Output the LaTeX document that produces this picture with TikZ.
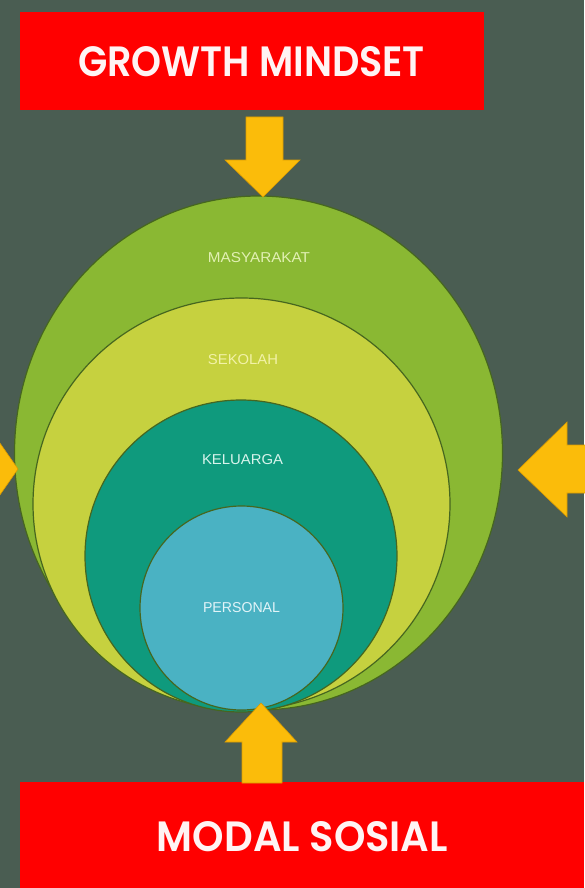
\documentclass[tikz,border=0pt]{standalone}
\usepackage{fontspec}
\usepackage{graphicx}
\setmainfont{Poppins}[BoldFont={* SemiBold}]
\newfontfamily\lblfont{Liberation Sans}
\definecolor{bg}{HTML}{4A5D52}
\definecolor{boxred}{HTML}{FF0000}
\definecolor{arrowc}{HTML}{FBBC0A}
\definecolor{arrowe}{HTML}{D99A00}
\definecolor{cmasy}{HTML}{8AB833}
\definecolor{csek}{HTML}{C6D13F}
\definecolor{ckel}{HTML}{0F9A7D}
\definecolor{cper}{HTML}{4AB2C3}
\definecolor{edgec}{HTML}{46661F}
\definecolor{tmasy}{HTML}{E2F0B4}
\definecolor{tsek}{HTML}{F2F2A8}
\definecolor{tkel}{HTML}{D8F4EC}
\definecolor{tper}{HTML}{E2F4F8}
\definecolor{ttitle}{HTML}{FFF4F4}
\tikzset{
  titlebox/.style={fill=boxred},
  titletext/.style={text=ttitle, inner sep=0pt, font=\bfseries},
  bigarrow/.style={fill=arrowc, draw=arrowe, line width=0.6pt, line join=miter},
  ring/.style={draw=edgec, line width=1.2pt},
  lbl/.style={inner sep=0pt, font=\lblfont},
}
\begin{document}
\begin{tikzpicture}[x=1pt,y=-1pt]
\fill[bg] (0,0) rectangle (584,888);
\useasboundingbox (0,0) rectangle (584,888);

% circles
\filldraw[ring, fill=cmasy] (258.5,453) ellipse [x radius=244, y radius=257];
\filldraw[ring, fill=csek] (241.5,504) ellipse [x radius=208.5, y radius=206];
\filldraw[ring, fill=ckel] (241,556) ellipse [x radius=156, y radius=156];
\filldraw[ring, fill=cper] (241.5,608) ellipse [x radius=101.5, y radius=102];

% labels
\node[lbl, text=tmasy] (masy) at (259,258) {\resizebox{102pt}{10pt}{MASYARAKAT}};
\node[lbl, text=tsek] (sek) at (243,360) {\resizebox{70pt}{10pt}{SEKOLAH}};
\node[lbl, text=tkel] (kel) at (242.5,460) {\resizebox{81pt}{10pt}{KELUARGA}};
\node[lbl, text=tper] (per) at (241.5,608) {\resizebox{77pt}{10pt}{PERSONAL}};

% red boxes
\fill[titlebox] (20,12) rectangle (484,110);
\fill[titlebox] (20,782) rectangle (584,888);
\node[titletext] (gm) at (251.5,62) {\resizebox{347pt}{30pt}{GROWTH MINDSET}};
\node[titletext] (ms) at (302.5,837) {\resizebox{291pt}{30pt}{MODAL SOSIAL}};

% arrows
\filldraw[bigarrow] (246,117) -- (283,117) -- (283,160) -- (300,160) -- (263,197) -- (225,160) -- (246,160) -- cycle;
\filldraw[bigarrow] (242,783) -- (282,783) -- (282,742) -- (297,742) -- (261,703) -- (225,742) -- (242,742) -- cycle;
\filldraw[bigarrow] (590,445) -- (567,445) -- (567,422) -- (518,470) -- (567,517) -- (567,493) -- (590,493) -- cycle;
\filldraw[bigarrow] (-12,426) -- (18,469) -- (-12,512) -- cycle;
\end{tikzpicture}
\end{document}
